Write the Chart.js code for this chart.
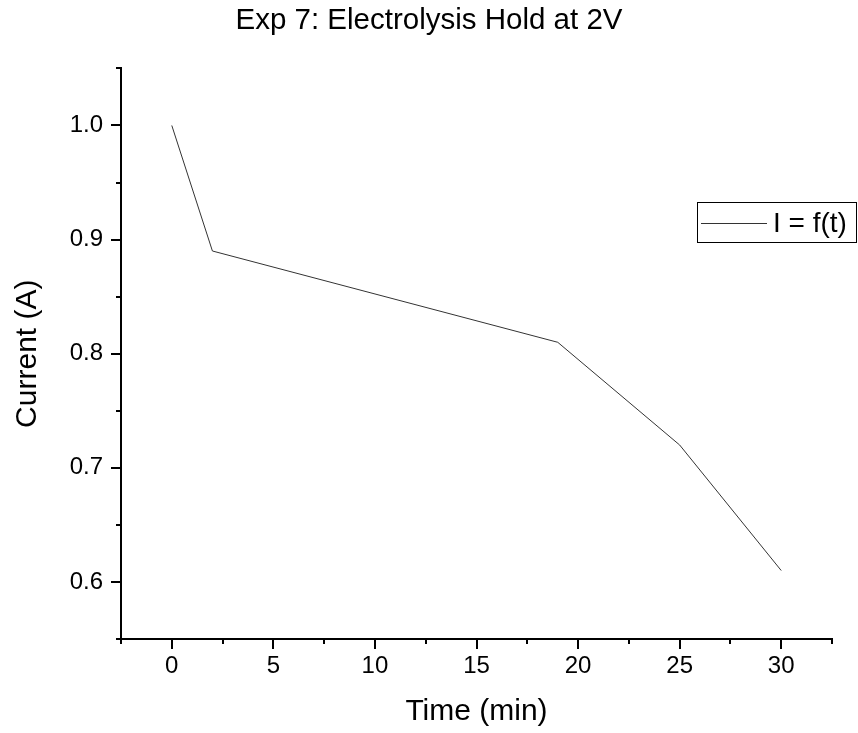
<!DOCTYPE html>
<html>
<head>
<meta charset="utf-8">
<script src="https://cdn.jsdelivr.net/npm/chart.js@4"></script>
<style>
  html, body { margin: 0; padding: 0; background: #fff; }
  #wrap { width: 858px; height: 733px; }
</style>
</head>
<body>
<div id="wrap"><canvas id="chart" width="858" height="733"></canvas></div>
<script>
// data
const times = [0, 2, 19, 25, 30];
const current = [1.0, 0.89, 0.81, 0.72, 0.61];
const xTicks = [0, 5, 10, 15, 20, 25, 30];
const yTicks = [0.6, 0.7, 0.8, 0.9, 1.0];
const xMinor = [-2.5, 2.5, 7.5, 12.5, 17.5, 22.5, 27.5, 32.5];
const yMinor = [0.55, 0.65, 0.75, 0.85, 0.95, 1.05];

const FONT = "Arial, 'Liberation Sans', sans-serif";

// outward tick marks, origin style
const tickMarks = {
    id: 'tickMarks',
    afterDraw(chart) {
        const ctx = chart.ctx;
        const xs = chart.scales.x, ys = chart.scales.y;
        const area = chart.chartArea;
        ctx.save();
        ctx.strokeStyle = '#000';
        ctx.lineWidth = 2;
        ctx.beginPath();
        xTicks.forEach(v => { const p = Math.round(xs.getPixelForValue(v)); ctx.moveTo(p, area.bottom); ctx.lineTo(p, area.bottom + 10); });
        xMinor.forEach(v => { const p = Math.round(xs.getPixelForValue(v)); ctx.moveTo(p, area.bottom); ctx.lineTo(p, area.bottom + 5); });
        yTicks.forEach(v => { const p = Math.round(ys.getPixelForValue(v)); ctx.moveTo(area.left, p); ctx.lineTo(area.left - 10, p); });
        yMinor.forEach(v => { const p = Math.round(ys.getPixelForValue(v)); ctx.moveTo(area.left, p); ctx.lineTo(area.left - 5, p); });
        ctx.stroke();
        ctx.restore();
    }
};

// boxed legend at the right edge
const boxLegend = {
    id: 'boxLegend',
    afterDraw(chart) {
        const ctx = chart.ctx;
        const ds = chart.data.datasets[0];
        const left = chart.chartArea.right - 135, top = 202;
        ctx.save();
        ctx.strokeStyle = '#000';
        ctx.lineWidth = 1;
        ctx.strokeRect(left + 0.5, top + 0.5, 159, 40);
        ctx.strokeStyle = ds.borderColor;
        ctx.beginPath();
        ctx.moveTo(left + 4, top + 21.5);
        ctx.lineTo(left + 70, top + 21.5);
        ctx.stroke();
        ctx.fillStyle = '#000';
        ctx.font = '28px ' + FONT;
        ctx.textBaseline = 'middle';
        ctx.fillText(ds.label, left + 76, top + 22);
        ctx.restore();
    }
};

var ctx = document.getElementById('chart').getContext('2d');

var chart = new Chart(ctx, {
    type: 'line',
    data: {
        datasets: [{
            label: 'I = f(t)',
            data: times.map((t, i) => ({ x: t, y: current[i] })),
            borderColor: '#333',
            borderWidth: 1,
            pointRadius: 0,
            tension: 0,
            fill: false
        }]
    },
    options: {
        responsive: false,
        animation: false,
        layout: { padding: 0 },
        plugins: {
            legend: { display: false },
            tooltip: { enabled: false },
            title: {
                display: true,
                text: 'Exp 7: Electrolysis Hold at 2V',
                color: '#000',
                font: { family: FONT, size: 29.5, weight: 'normal' },
                padding: { top: 3, bottom: 30 }
            }
        },
        scales: {
            x: {
                type: 'linear',
                min: -2.5,
                max: 32.5,
                grid: { display: false, drawTicks: false },
                border: { display: true, color: '#000', width: 2 },
                ticks: {
                    color: '#000',
                    font: { family: FONT, size: 24 },
                    padding: 13,
                    maxRotation: 0,
                    callback: v => String(v)
                },
                afterBuildTicks: s => { s.ticks = xTicks.map(v => ({ value: v })); },
                afterFit: s => { s.height = 94; },
                title: {
                    display: true,
                    text: 'Time (min)',
                    color: '#000',
                    font: { family: FONT, size: 30 },
                    padding: { top: 0, bottom: 3 }
                }
            },
            y: {
                type: 'linear',
                min: 0.55,
                max: 1.05,
                grid: { display: false, drawTicks: false },
                border: { display: true, color: '#000', width: 2 },
                ticks: {
                    color: '#000',
                    font: { family: FONT, size: 24 },
                    padding: 18,
                    callback: v => Number(v).toFixed(1)
                },
                afterBuildTicks: s => { s.ticks = yTicks.map(v => ({ value: v })); },
                afterFit: s => { s.width = 121; },
                title: {
                    display: true,
                    text: 'Current (A)',
                    color: '#000',
                    font: { family: FONT, size: 30 },
                    padding: { top: 10, bottom: 0 }
                }
            },
            // empty right-hand spacer so the plot stops short of the edge
            yRight: {
                type: 'linear',
                position: 'right',
                display: true,
                grid: { display: false, drawTicks: false },
                border: { display: false },
                ticks: { display: false },
                afterFit: s => { s.width = 26; }
            }
        }
    },
    plugins: [tickMarks, boxLegend]
});
</script>
</body>
</html>
